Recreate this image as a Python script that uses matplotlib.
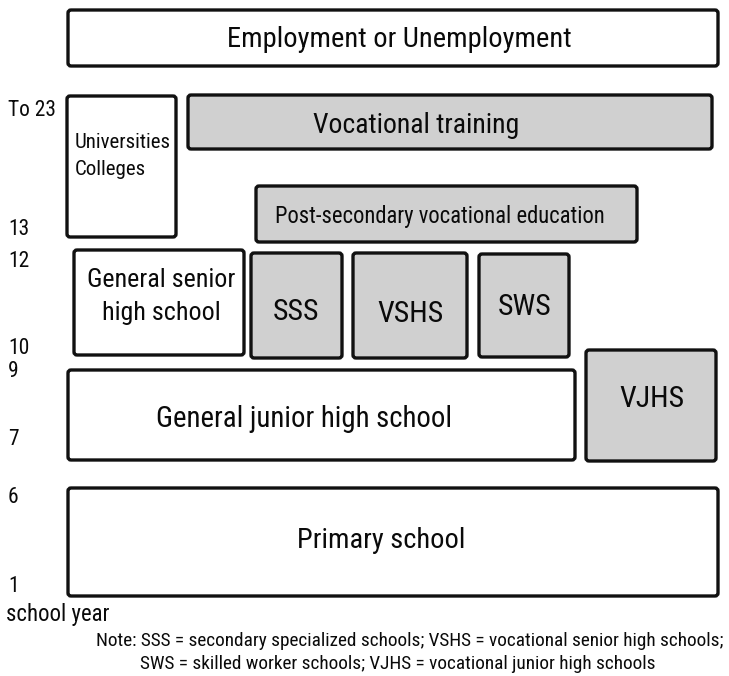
import matplotlib
matplotlib.use("Agg")
import matplotlib.pyplot as plt
from matplotlib.patches import FancyBboxPatch

plt.rcParams['font.family'] = ['Roboto Condensed', 'DejaVu Sans']

# Content
box_labels = ["Employment or Unemployment", "Universities\nColleges", "Vocational training",
              "Post-secondary vocational education", "General senior\nhigh school",
              "SSS", "VSHS", "SWS", "General junior high school", "VJHS", "Primary school"]
box_shaded = [False, False, True, True, False, True, True, True, False, True, False]
year_labels = ["To 23", "13", "12", "10", "9", "7", "6", "1"]
axis_label = "school year"
note_lines = ["Note: SSS = secondary specialized schools; VSHS = vocational senior high schools;",
              "SWS = skilled worker schools; VJHS = vocational junior high schools"]

# Layout (pixel coordinates: x0, y0, x1, y1)
box_rects = [(68, 10, 718, 66), (67, 96, 176, 237), (188, 95, 712, 149),
             (256, 186, 637, 242), (74, 250, 244, 355), (251, 253, 342, 358),
             (353, 253, 467, 358), (479, 254, 569, 357), (68, 370, 575, 460),
             (586, 350, 716, 461), (68, 488, 718, 596)]
text_x = [399, 75, 416, 440, 161, 296, 411, 525, 304, 652, 381]
text_baseline = [47, 148, 133, 223, 287, 320, 322, 315, 427, 407, 548]
line_step = [0, 27, 0, 0, 33, 0, 0, 0, 0, 0, 0]
text_size = [20.5, 15, 20, 16.3, 18.7, 21.5, 21.5, 21.5, 20.7, 21.5, 20.5]
text_ha = ["center", "left", "center", "center", "center", "center", "center",
           "center", "center", "center", "center"]
year_baseline = [116, 235, 267, 354, 377, 445, 503, 592]

fig = plt.figure(figsize=(7.29, 6.76), dpi=100)
ax = fig.add_axes([0, 0, 1, 1])
ax.set_xlim(0, 729)
ax.set_ylim(676, 0)
ax.axis("off")

for lab, shaded, (x0, y0, x1, y1), tx, ty, dy, fs, ha in zip(
        box_labels, box_shaded, box_rects, text_x, text_baseline, line_step,
        text_size, text_ha):
    p = FancyBboxPatch((x0, y0), x1 - x0, y1 - y0,
                       boxstyle="round,pad=0,rounding_size=3",
                       facecolor="#d0d0d0" if shaded else "white",
                       edgecolor="#111111", linewidth=2.4)
    ax.add_patch(p)
    for i, line in enumerate(lab.split("\n")):
        ax.text(tx, ty + i * dy, line, ha=ha, va="baseline", fontsize=fs,
                color="#0a0a0a")

for lab, y in zip(year_labels, year_baseline):
    ax.text(8, y, lab, ha="left", va="baseline", fontsize=15.5, color="#0a0a0a")

ax.text(6, 621, axis_label, ha="left", va="baseline", fontsize=16.4, color="#0a0a0a")
ax.text(410, 646, note_lines[0], ha="center", va="baseline", fontsize=13.9, color="#0a0a0a")
ax.text(398, 669, note_lines[1], ha="center", va="baseline", fontsize=13.9, color="#0a0a0a")

fig.savefig("out.png", dpi=100)
